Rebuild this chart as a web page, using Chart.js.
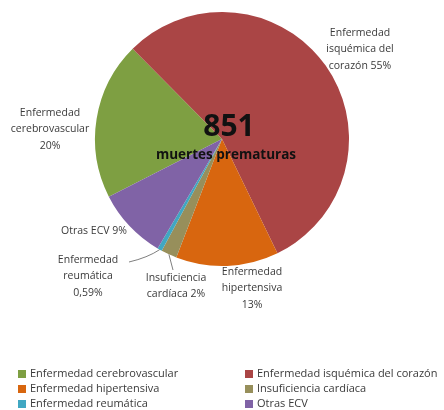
<!DOCTYPE html>
<html>
<head>
<meta charset="utf-8">
<script src="https://cdn.jsdelivr.net/npm/chart.js@4.4.1/dist/chart.umd.min.js"></script>
<style>
  html, body { margin: 0; padding: 0; background: #fff; }
  #wrap { width: 444px; height: 410px; position: relative; }
</style>
</head>
<body>
<div id="wrap"><canvas id="c" width="444" height="410"></canvas></div>
<script>
// data
const categories = [
    "Enfermedad cerebrovascular",
    "Enfermedad isquémica del corazón",
    "Enfermedad hipertensiva",
    "Insuficiencia cardíaca",
    "Enfermedad reumática",
    "Otras ECV"
];
const percents = [20, 55, 13, 2, 0.59, 9];
const sliceLabels = [
    ["Enfermedad", "cerebrovascular", "20%"],
    ["Enfermedad", "isquémica del", "corazón 55%"],
    ["Enfermedad", "hipertensiva", "13%"],
    ["Insuficiencia", "cardíaca 2%"],
    ["Enfermedad", "reumática", "0,59%"],
    ["Otras ECV 9%"]
];
const totalDeaths = "851";
const centerCaption = "muertes prematuras";
const colors = ["#7e9f42", "#aa4545", "#d8660f", "#978f5b", "#40a7c2", "#8063a6"];

const FONT = "'Open Sans', sans-serif";

// where each slice label sits (text centre, first line) and leader line end
const labelPos = [
    { x: 50, y: 113 },
    { x: 360, y: 33 },
    { x: 252, y: 272 },
    { x: 176, y: 278, lead: { x: 173, y: 270 } },
    { x: 88, y: 260, lead: { x: 129, y: 262 } },
    { x: 94, y: 231 }
];

const pieText = {
    id: 'pieText',
    afterDraw(chart) {
        const ctx = chart.ctx;
        const meta = chart.getDatasetMeta(0);
        ctx.save();
        ctx.textAlign = 'center';
        ctx.textBaseline = 'middle';

        // slice labels
        meta.data.forEach((arc, i) => {
            const p = labelPos[i];
            const { x, y, startAngle, endAngle, outerRadius } = arc.getProps(['x', 'y', 'startAngle', 'endAngle', 'outerRadius'], true);
            if (p.lead) {
                const mid = (startAngle + endAngle) / 2;
                const sx = x + Math.cos(mid) * outerRadius;
                const sy = y + Math.sin(mid) * outerRadius;
                ctx.strokeStyle = '#7f7f7f';
                ctx.lineWidth = 1;
                ctx.beginPath();
                ctx.moveTo(sx, sy);
                if (i === 4) {
                    ctx.quadraticCurveTo(sx - 12, sy + 8, p.lead.x, p.lead.y);
                } else {
                    ctx.lineTo(p.lead.x, p.lead.y);
                }
                ctx.stroke();
            }
            ctx.fillStyle = '#3a3a3a';
            ctx.font = '10.5px ' + FONT;
            sliceLabels[i].forEach((line, k) => {
                ctx.fillText(line, p.x, p.y + k * 16.5);
            });
        });

        // centre text
        ctx.fillStyle = '#111';
        ctx.font = 'bold 30px ' + FONT;
        ctx.fillText(totalDeaths, 229, 127);
        ctx.font = 'bold 13.5px ' + FONT;
        ctx.fillText(centerCaption, 226, 155);

        // legend, two columns
        ctx.textAlign = 'left';
        ctx.font = '11px ' + FONT;
        categories.forEach((name, i) => {
            const col = i % 2, row = Math.floor(i / 2);
            const bx = col === 0 ? 18 : 245;
            const by = 374 + row * 15;
            ctx.fillStyle = colors[i];
            ctx.fillRect(bx, by - 4, 8, 8);
            ctx.fillStyle = '#3a3a3a';
            ctx.fillText(name, bx + 12, by);
        });
        ctx.restore();
    }
};

new Chart(document.getElementById('c'), {
    type: 'pie',
    data: {
        labels: categories,
        datasets: [{
            data: percents,
            backgroundColor: colors,
            borderWidth: 0
        }]
    },
    options: {
        responsive: false,
        animation: false,
        rotation: 243,
        layout: {
            padding: { top: 12, bottom: 144, left: 0, right: 0 }
        },
        plugins: {
            legend: { display: false },
            tooltip: { enabled: false }
        }
    },
    plugins: [pieText]
});
</script>
</body>
</html>
